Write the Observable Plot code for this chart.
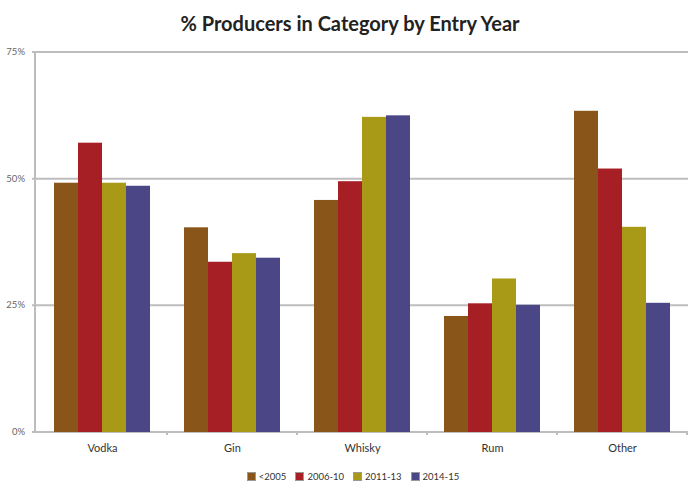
<!DOCTYPE html>
<html>
<head>
<meta charset="utf-8">
<script src="https://cdn.jsdelivr.net/npm/d3@7"></script>
<script src="https://cdn.jsdelivr.net/npm/@observablehq/plot@0.6"></script>
<style>
  html, body { margin: 0; padding: 0; background: #fff; }
  #wrap { width: 700px; height: 493px; overflow: hidden; font-family: Lato, "Open Sans", sans-serif; }
  #title { height: 44px; line-height: 46px; text-align: center; font-size: 20px; font-weight: bold; color: #222; }
  #legend { height: 33px; display: flex; justify-content: center; align-items: center; gap: 9px; font-size: 9.5px; color: #333; padding-left: 6px; }
  #legend .item { display: flex; align-items: center; gap: 3px; }
  #legend .sw { width: 7px; height: 7px; border: 1px solid #999; }
  svg { display: block; }
</style>
</head>
<body>
<div id="wrap">
  <div id="title">% Producers in Category by Entry Year</div>
  <div id="chart"></div>
  <div id="legend"></div>
</div>
<script>
const categories = ["Vodka", "Gin", "Whisky", "Rum", "Other"];
const series = ["<2005", "2006-10", "2011-13", "2014-15"];
const valuesPre2005 = [49.2, 40.4, 45.8, 22.9, 63.4];
const values2006_10 = [57.1, 33.6, 49.5, 25.4, 52.0];
const values2011_13 = [49.2, 35.3, 62.2, 30.3, 40.5];
const values2014_15 = [48.6, 34.4, 62.5, 25.1, 25.5];
const yTicks = [0, 25, 50, 75];
const yTickLabels = ["0%", "25%", "50%", "75%"];
const colors = ["#8a5519", "#a61f24", "#a89916", "#4b4685"];

const seriesValues = [valuesPre2005, values2006_10, values2011_13, values2014_15];
const data = [];
categories.forEach((c, i) => {
  series.forEach((s, j) => data.push({category: c, series: s, value: seriesValues[j][i]}));
});

const W = 700, H = 416, mT = 8, mB = 28, mL = 35, mR = 12;
const grid = "#bdbdbd";
const chart = Plot.plot({
  width: W,
  height: H,
  marginTop: mT,
  marginBottom: mB,
  marginLeft: mL,
  marginRight: mR,
  style: {fontFamily: "Lato, 'Open Sans', sans-serif"},
  fx: {domain: categories, paddingInner: 0.265, paddingOuter: 0.1325, label: null},
  x: {domain: series, padding: 0, axis: null},
  y: {domain: [0, 75], label: null, axis: null},
  color: {domain: series, range: colors},
  marks: [
    Plot.barY(data, {fx: "category", x: "series", y: "value", fill: "series"}),
    Plot.axisFx({anchor: "bottom", tickSize: 0, tickPadding: 12, fontSize: 11, fill: "#333", label: null})
  ]
});

// gridlines, y axis (line, ticks, labels) and category boundary ticks, positioned with Plot's own scales
const y = chart.scale("y");
const fx = chart.scale("fx");
const svg = d3.select(chart);
const g = svg.insert("g", ":first-child").attr("stroke", grid).attr("stroke-width", 2);
yTicks.forEach(t => {
  g.append("line").attr("x1", mL - 3).attr("x2", W - mR).attr("y1", y.apply(t)).attr("y2", y.apply(t));
});
g.append("line").attr("x1", mL).attr("x2", mL).attr("y1", y.apply(75) - 1).attr("y2", y.apply(0) + 1);
const gap = (fx.step - fx.bandwidth) / 2;
categories.forEach(c => {
  const xb = fx.apply(c) + fx.bandwidth + gap;
  g.append("line").attr("x1", xb).attr("x2", xb).attr("y1", y.apply(0)).attr("y2", y.apply(0) + 3);
});
const labels = svg.append("g")
  .attr("font-family", "Lato, 'Open Sans', sans-serif")
  .attr("font-size", 9.5)
  .attr("fill", "#666")
  .attr("text-anchor", "end");
yTicks.forEach((t, i) => {
  labels.append("text").attr("x", mL - 10).attr("y", y.apply(t)).attr("dy", "0.32em").text(yTickLabels[i]);
});
document.getElementById("chart").appendChild(chart);

const legend = document.getElementById("legend");
series.forEach((s, j) => {
  const item = document.createElement("div");
  item.className = "item";
  const sw = document.createElement("span");
  sw.className = "sw";
  sw.style.background = colors[j];
  const t = document.createElement("span");
  t.textContent = s;
  item.appendChild(sw);
  item.appendChild(t);
  legend.appendChild(item);
});
</script>
</body>
</html>
